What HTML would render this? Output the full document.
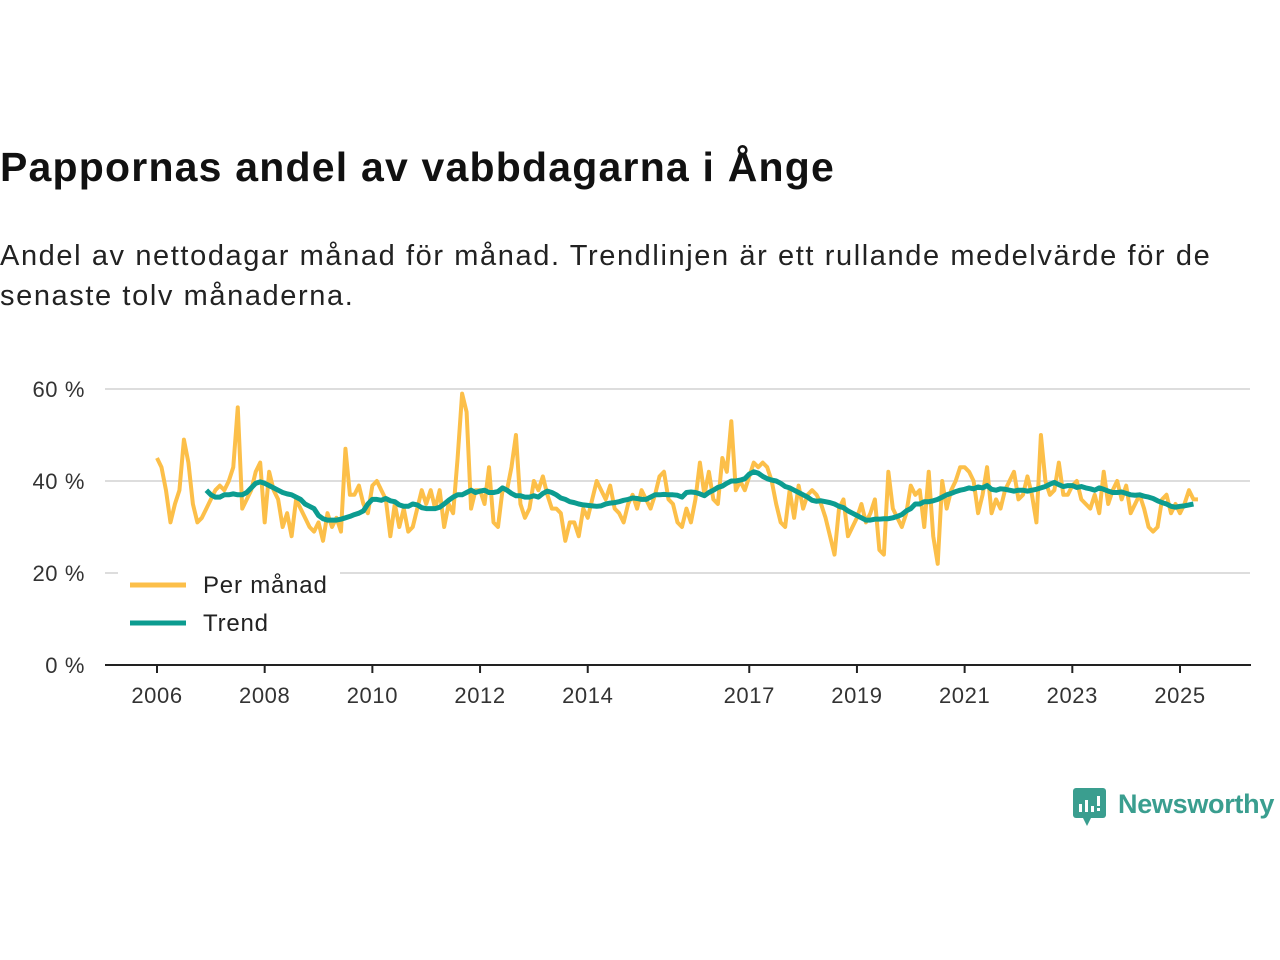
<!DOCTYPE html>
<html><head><meta charset="utf-8"><style>
body{margin:0;background:#fff;font-family:"Liberation Sans","DejaVu Sans",sans-serif;}
#wrap{position:relative;width:1280px;height:960px;overflow:hidden;}
h1{position:absolute;left:0;top:144px;margin:0;font-size:41px;font-weight:bold;color:#111;letter-spacing:1.2px;z-index:2;}
p.sub{position:absolute;left:0;top:236px;margin:0;font-size:29px;line-height:40px;color:#222;width:1250px;letter-spacing:1.6px;z-index:2;}
</style></head><body><div id="wrap">
<h1>Pappornas andel av vabbdagarna i Ånge</h1>
<p class="sub">Andel av nettodagar månad för månad. Trendlinjen är ett rullande medelvärde för de senaste tolv månaderna.</p>
<svg id="chart" width="1280" height="960" style="position:absolute;left:0;top:0;z-index:1"></svg>
</div>
<script>
const monthly=[45,43,38,31,35,38,49,44,35,31,32,34,
36,38,39,38,40,43,56,34,36,38,42,44,
31,42,38,36,30,33,28,36,34,32,30,29,
31,27,33,30,32,29,47,37,37,39,35,33,
39,40,38,36,28,35,30,34,29,30,34,38,
35,38,34,38,30,35,33,45,59,55,34,38,
38,35,43,31,30,38,38,43,50,35,32,34,
40,38,41,37,34,34,33,27,31,31,28,34,
32,36,40,38,36,39,34,33,31,35,37,34,
38,36,34,37,41,42,36,35,31,30,34,31,
36,44,37,42,36,35,45,42,53,38,40,38,
41,44,43,44,43,40,35,31,30,38,32,39,
34,37,38,37,35,32,28,24,34,36,28,30,
32,35,31,33,36,25,24,42,34,32,30,33,
39,37,38,30,42,28,22,40,34,38,40,43,
43,42,40,33,37,43,33,36,34,38,40,42,
36,37,41,37,31,50,40,37,38,44,37,37,
39,40,36,35,34,37,33,42,35,38,40,36,
39,33,35,37,34,30,29,30,36,37,33,35,
33,35,38,36,36];
const trend=[38,37,36.5,36.5,37,37,37.2,37,37,37.5,38.5,39.5,
39.8,39.5,39,38.5,38,37.5,37.2,37,36.5,36,35,34.5,
34,32.5,31.8,31.5,31.5,31.5,31.7,32,32.3,32.7,33,33.5,
35,36,36,35.8,36.2,35.7,35.5,34.8,34.5,34.5,35,34.8,
34.2,34,34,34,34.3,35,35.8,36.5,37,37,37.5,38,
37.5,37.8,38,37.5,37.5,37.7,38.5,38,37.3,36.8,36.8,36.5,
36.5,36.8,36.5,37.3,37.8,37.5,37,36.3,36,35.5,35.3,35,
34.8,34.7,34.6,34.5,34.6,35,35.2,35.3,35.5,35.8,36,36.3,
36.2,36,36,36.5,37,37,37.1,37,37,36.9,36.5,37.5,
37.6,37.5,37.2,36.8,37.5,38,38.6,38.9,39.5,40,40,40.2,
40.5,41.5,42,41.7,41,40.5,40.2,40,39.5,38.8,38.5,38,
37.5,37,36.5,35.8,35.6,35.7,35.5,35.3,35,34.5,34.2,33.5,
33,32.5,32,31.5,31.5,31.7,31.7,31.8,31.8,32,32.3,32.7,
33.5,34,35,35,35.5,35.5,35.7,36,36.5,37,37.3,37.7,
38,38.2,38.5,38.3,38.7,38.5,39,38.2,38,38.3,38.2,38,
37.8,38,38,37.8,38,38.2,38.5,38.8,39.3,39.7,39.2,38.8,
39,39,38.6,38.8,38.5,38.3,38,38.5,38.2,37.8,37.5,37.5,
37.6,37.3,37,36.9,37,36.7,36.5,36.2,35.7,35.3,35,34.5,
34.3,34.5,34.6,34.8,35];
const trendStart=11;
const yTicks=[0,20,40,60];
const xYears=[2006,2008,2010,2012,2014,2017,2019,2021,2023,2025];
const NS='http://www.w3.org/2000/svg';
const svg=document.getElementById('chart');
const x=m=>157+m*(1180-157)/228;
const y=v=>665-v*(665-389)/60;
function mk(t,a){const e=document.createElementNS(NS,t);for(const k in a)e.setAttribute(k,a[k]);svg.appendChild(e);return e;}
yTicks.forEach(v=>{
 if(v>0){const g=mk('line',{x1:105,x2:1250,y1:y(v),y2:y(v),stroke:'#dddddd','stroke-width':2});
 
 }
 const t=mk('text',{x:85,y:y(v)+8,'text-anchor':'end','font-size':22,fill:'#333','font-family':'Liberation Sans, sans-serif','letter-spacing':'0.6'});
 t.textContent=v+' %';
 
 
});
const ax=mk('line',{x1:105,x2:1251,y1:665,y2:665,stroke:'#222','stroke-width':2});


xYears.forEach(yr=>{
 const xx=x((yr-2006)*12);
 const tk=mk('line',{x1:xx,x2:xx,y1:665,y2:673,stroke:'#222','stroke-width':2});
 
 
 const t=mk('text',{x:xx,y:703,'text-anchor':'middle','font-size':22,fill:'#333','font-family':'Liberation Sans, sans-serif','letter-spacing':'0.6'});
 t.textContent=yr;
 
 
});
const p1=mk('polyline',{points:monthly.map((v,i)=>x(i)+','+y(v)).join(' '),fill:'none',stroke:'#fcbf49','stroke-width':4,'stroke-linejoin':'round'});


const p2=mk('polyline',{points:trend.map((v,i)=>x(i+trendStart)+','+y(v)).join(' '),fill:'none',stroke:'#0c9c90','stroke-width':5,'stroke-linejoin':'round'});


const lb=mk('rect',{x:118,y:566,width:222,height:76,fill:'#fff'});


[['Per månad','#fcbf49',585],['Trend','#0c9c90',623]].forEach(([n,c,yy])=>{
 const l=mk('line',{x1:130,x2:186,y1:yy,y2:yy,stroke:c,'stroke-width':5});
 
 
 const t=mk('text',{x:203,y:yy+8,'font-size':24,fill:'#222','font-family':'Liberation Sans, sans-serif','letter-spacing':'0.8'});
 t.textContent=n;
 
 
});
const ic=mk('g',{});


ic.innerHTML='<rect x="1073" y="788" width="33" height="30" rx="3" fill="#3a9e8f"/><polygon points="1083,818 1091,818 1087,826" fill="#3a9e8f"/><rect x="1079" y="804" width="3" height="8" fill="#fff"/><rect x="1085" y="800" width="3" height="12" fill="#fff"/><rect x="1091" y="806" width="3" height="6" fill="#fff"/><rect x="1097" y="796" width="3" height="10" fill="#fff"/><rect x="1097" y="808" width="3" height="3" fill="#fff"/>';
const lt=mk('text',{x:1118,y:813,'font-size':27,'font-weight':'bold',fill:'#3a9e8f','font-family':'Liberation Sans, sans-serif','letter-spacing':'-0.3'});
lt.textContent='Newsworthy';


</script></body></html>
